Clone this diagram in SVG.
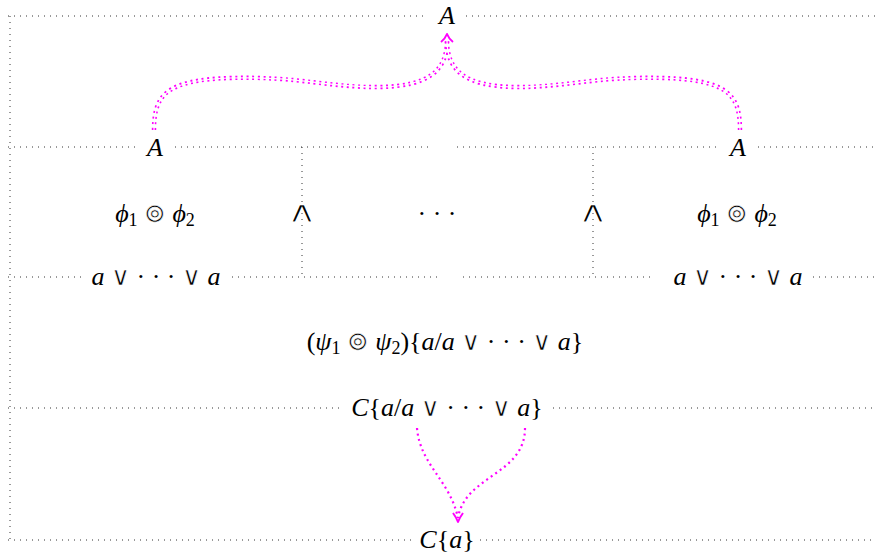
<svg xmlns="http://www.w3.org/2000/svg" width="876" height="556" viewBox="0 0 876 556">
<style>
.t{font-family:"Liberation Serif","DejaVu Serif",serif;font-size:26px;fill:#000;text-anchor:middle}
.i{font-style:italic}
.s{font-size:18px}
.y{font-family:"DejaVu Sans",sans-serif;font-size:26px;stroke:#fff;stroke-width:0.6}
.w{font-family:"DejaVu Sans",sans-serif;font-size:30px;stroke:#fff;stroke-width:1.2}
.dot{stroke:#333;stroke-width:1;stroke-dasharray:1 5;fill:none}
.mag{stroke:#f0f;stroke-width:4.4;stroke-dasharray:2 3.6;fill:none}
.wht{stroke:#fff;stroke-width:1.2;fill:none}
.mag1{stroke:#f0f;stroke-width:2.2;stroke-dasharray:2 3.5;fill:none}
.head{stroke:#f0f;stroke-width:2;fill:none;stroke-linejoin:round}
</style>
<rect width="876" height="556" fill="#fff"/>
<g id="frame">
<path class="dot" d="M8,16H428M466,16H876"/>
<path class="dot" d="M8,147H137M175,147H433M457,147H720M758,147H876"/>
<path class="dot" d="M8,277H85M232,277H440M463,277H653M813,277H876"/>
<path class="dot" d="M8,408H343M553,408H876"/>
<path class="dot" d="M8,540H415M480,540H876"/>
<path class="dot" d="M10,16V540"/>
<path class="dot" d="M302,147V277M593,147V277"/>
</g>
<g id="connectors">
<path id="brace-left" class="mag" d="M154,130 C154,95 166,80 230,78 C300,76 330,88 380,87 C430,86 447,70 447,40"/>
<path class="wht" d="M154,130 C154,95 166,80 230,78 C300,76 330,88 380,87 C430,86 447,70 447,40"/>
<path id="brace-right" class="mag" d="M740,130 C740,95 728,80 664,78 C594,76 564,88 514,87 C464,86 447,70 447,40"/>
<path class="wht" d="M740,130 C740,95 728,80 664,78 C594,76 564,88 514,87 C464,86 447,70 447,40"/>
<path class="head" d="M441,42 Q445,39 447,34 Q449,39 453,42"/>
<path id="arrow-left" class="mag1" d="M417,428 C420,465 450,480 458,518"/>
<path id="arrow-right" class="mag1" d="M525,428 C525,475 465,475 458,518"/>
<path class="head" d="M453,513 Q456,517 458,522 Q460,517 463,513" fill="#f0f"/>
</g>
<g id="n-top"><text class="t i" x="447" y="24">A</text></g>
<g id="n-A-left"><text class="t i" x="155" y="156">A</text></g>
<g id="n-A-right"><text class="t i" x="738" y="156">A</text></g>
<g id="n-phi-left"><text class="t" x="155" y="222"><tspan class="i">ϕ</tspan><tspan class="s" dy="4">1</tspan><tspan dy="-4"> </tspan><tspan class="y">⊚</tspan> <tspan class="i">ϕ</tspan><tspan class="s" dy="4">2</tspan></text></g>
<g id="n-phi-right"><text class="t" x="737" y="222"><tspan class="i">ϕ</tspan><tspan class="s" dy="4">1</tspan><tspan dy="-4"> </tspan><tspan class="y">⊚</tspan> <tspan class="i">ϕ</tspan><tspan class="s" dy="4">2</tspan></text></g>
<g id="n-wedge-1"><text class="t w" transform="translate(302,222) scale(1.45,1)">∧</text></g>
<g id="n-wedge-2"><text class="t w" transform="translate(593,222) scale(1.45,1)">∧</text></g>
<g id="n-dots"><text class="t" x="437" y="222">· · ·</text></g>
<g id="n-or-left"><text class="t" x="156" y="285"><tspan class="i">a</tspan> <tspan class="y">∨</tspan> · · · <tspan class="y">∨</tspan> <tspan class="i">a</tspan></text></g>
<g id="n-or-right"><text class="t" x="738" y="285"><tspan class="i">a</tspan> <tspan class="y">∨</tspan> · · · <tspan class="y">∨</tspan> <tspan class="i">a</tspan></text></g>
<g id="n-psi"><text class="t" x="445" y="350">(<tspan class="i">ψ</tspan><tspan class="s" dy="4">1</tspan><tspan dy="-4"> </tspan><tspan class="y">⊚</tspan> <tspan class="i">ψ</tspan><tspan class="s" dy="4">2</tspan><tspan dy="-4">){</tspan><tspan class="i">a</tspan>/<tspan class="i">a</tspan> <tspan class="y">∨</tspan> · · · <tspan class="y">∨</tspan> <tspan class="i">a</tspan>}</text></g>
<g id="n-C-subst"><text class="t" x="447" y="416"><tspan class="i">C</tspan>{<tspan class="i">a</tspan>/<tspan class="i">a</tspan> <tspan class="y">∨</tspan> · · · <tspan class="y">∨</tspan> <tspan class="i">a</tspan>}</text></g>
<g id="n-C-a"><text class="t" x="447" y="548"><tspan class="i">C</tspan>{<tspan class="i">a</tspan>}</text></g>
</svg>
